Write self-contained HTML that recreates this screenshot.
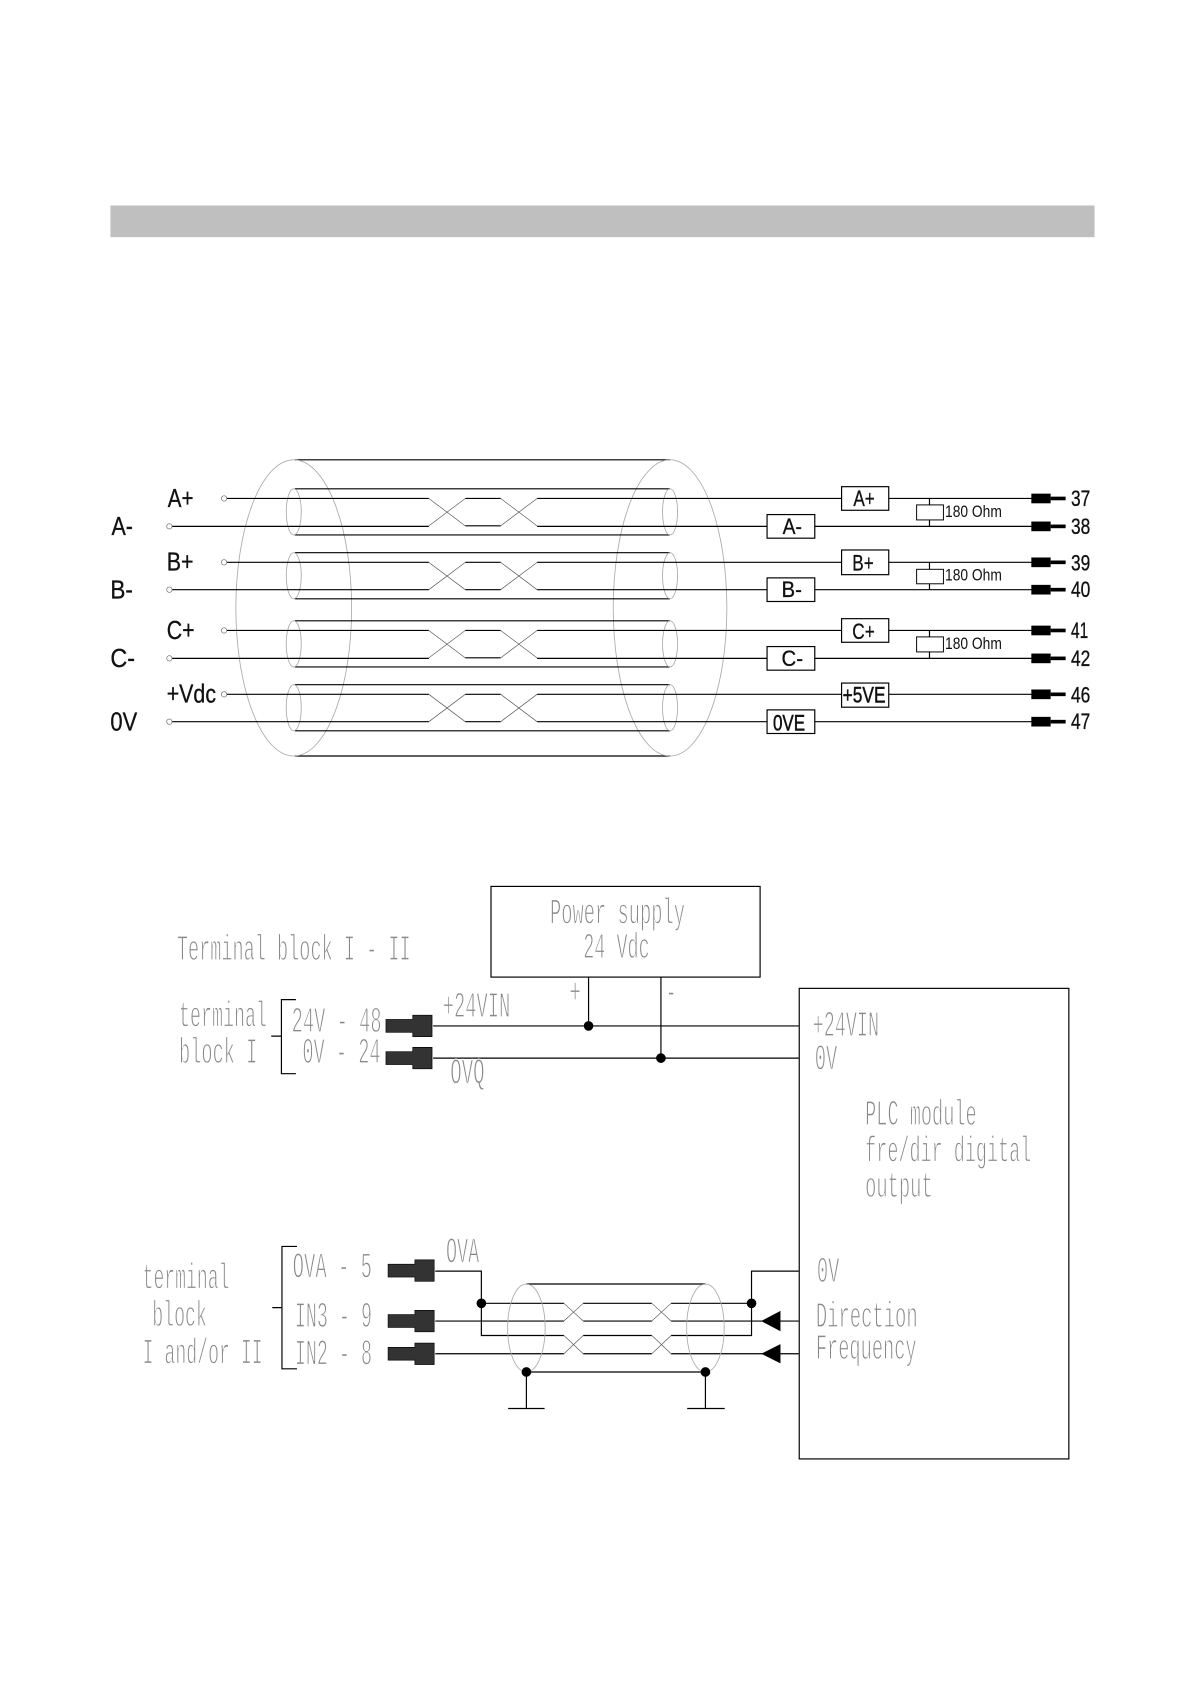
<!DOCTYPE html>
<html><head><meta charset="utf-8"><style>
html,body{margin:0;padding:0;background:#fff}
svg{display:block}
.s{font-family:"Liberation Sans",sans-serif;fill:#111;stroke:#111;stroke-width:.3px}
.m{font-family:"Liberation Mono",monospace;font-size:34px;fill:#888;stroke:#fff;stroke-width:1.1px}
.w{stroke:#000;stroke-width:1.1;fill:none}
.g{stroke:#aaa;stroke-width:.8;fill:none}
.t{stroke:#555;stroke-width:.6;fill:none}
</style></head><body>
<svg xmlns="http://www.w3.org/2000/svg" width="1190" height="1684" viewBox="0 0 1110 1570.8">
<defs>
<g id="pair">
<path class="w" d="M274 -9H624M274 34H624"/>
<ellipse class="g" cx="273" cy="12.5" rx="7" ry="21.5"/>
<ellipse class="g" cx="624" cy="12.5" rx="7" ry="21.5"/>
<path class="t" d="M399 0L433 25.5M433 0L399 25.5M466 0L500 25.5M466 25.5L500 0"/>
<path class="w" d="M433 0H466M433 25.5H466"/>
</g>
<g id="term"><rect x="961" y="-4.500" width="18" height="9" fill="#000"/><rect x="979" y="-1.700" width="14" height="3.400" fill="#000"/></g>
<g id="conn"><path d="M0 -6H25V-10H43V10H25V6H0Z" fill="#333" stroke="#000" stroke-width=".6"/></g>
</defs>
<g transform="translate(1,.5) scale(1,1.001)">
<rect x="102" y="191" width="918" height="29.5" fill="#bfbfbf"/>

<!-- top cable -->
<path class="w" d="M274 428H624M274 704H624"/>
<ellipse class="g" cx="273" cy="566" rx="54" ry="138"/>
<ellipse class="g" cx="624" cy="566" rx="53" ry="138"/>
<use href="#pair" y="464"/><use href="#pair" y="523.5"/><use href="#pair" y="587"/><use href="#pair" y="646.5"/>
<path class="w" d="M208 464H399M500 464H784M828 464H962M157 490H399M500 490H714M759 490H962"/>
<path class="w" d="M208 523.5H399M500 523.5H784M828 523.5H962M157 549H399M500 549H714M759 549H962"/>
<path class="w" d="M208 587H399M500 587H784M828 587H962M157 613H399M500 613H714M759 613H962"/>
<path class="w" d="M208 646.5H399M500 646.5H784M828 646.5H962M157 672H399M500 672H714M759 672H962"/>
<g fill="#fff" stroke="#777" stroke-width=".7">
<circle cx="208" cy="464" r="2.5"/><circle cx="157" cy="490" r="2.5"/><circle cx="208" cy="523.5" r="2.5"/><circle cx="157" cy="549" r="2.5"/>
<circle cx="208" cy="587" r="2.5"/><circle cx="157" cy="613" r="2.5"/><circle cx="208" cy="646.5" r="2.5"/><circle cx="157" cy="672" r="2.5"/>
</g>
<g class="s" font-size="24">
<text x="155.500" y="472" textLength="24" lengthAdjust="spacingAndGlyphs">A+</text>
<text x="103" y="498" textLength="20" lengthAdjust="spacingAndGlyphs">A-</text>
<text x="154.500" y="531" textLength="25" lengthAdjust="spacingAndGlyphs">B+</text>
<text x="102" y="557" textLength="21" lengthAdjust="spacingAndGlyphs">B-</text>
<text x="154.500" y="595" textLength="26" lengthAdjust="spacingAndGlyphs">C+</text>
<text x="102" y="621" textLength="23" lengthAdjust="spacingAndGlyphs">C-</text>
<text x="154.500" y="654" textLength="46" lengthAdjust="spacingAndGlyphs">+Vdc</text>
<text x="102" y="680" textLength="25" lengthAdjust="spacingAndGlyphs">0V</text>
</g>
<g fill="#fff" stroke="#000" stroke-width="1.1">
<rect x="784" y="453" width="44" height="22"/><rect x="714.5" y="479" width="44.5" height="22"/>
<rect x="784" y="512" width="44" height="23"/><rect x="714.5" y="538" width="44.5" height="22"/>
<rect x="784" y="576" width="44" height="22"/><rect x="714.5" y="602" width="44.5" height="22"/>
<rect x="784" y="636" width="44" height="22.5"/><rect x="714.5" y="661" width="44.5" height="22"/>
</g>
<g class="s" font-size="21">
<text x="795" y="471" textLength="20" lengthAdjust="spacingAndGlyphs">A+</text>
<text x="729" y="497" textLength="18" lengthAdjust="spacingAndGlyphs">A-</text>
<text x="794" y="531" textLength="20" lengthAdjust="spacingAndGlyphs">B+</text>
<text x="728" y="556" textLength="19" lengthAdjust="spacingAndGlyphs">B-</text>
<text x="794" y="595" textLength="21" lengthAdjust="spacingAndGlyphs">C+</text>
<text x="728" y="620" textLength="20" lengthAdjust="spacingAndGlyphs">C-</text>
<text x="785" y="654" textLength="40" lengthAdjust="spacingAndGlyphs" stroke-width=".5">+5VE</text>
<text x="720" y="680" textLength="30" lengthAdjust="spacingAndGlyphs" stroke-width=".5">0VE</text>
</g>
<path class="w" d="M866 464V490M866 523.5V549M866 587V613"/>
<g fill="#fff" stroke="#000" stroke-width=".9">
<rect x="854" y="470" width="25" height="14"/><rect x="854" y="530" width="25" height="13.5"/><rect x="854" y="593" width="25" height="14"/>
</g>
<g class="s" font-size="15.500">
<text x="880.500" y="481.500" textLength="53" lengthAdjust="spacingAndGlyphs" stroke-width="0">180 Ohm</text>
<text x="880.500" y="540.500" textLength="53" lengthAdjust="spacingAndGlyphs" stroke-width="0">180 Ohm</text>
<text x="880.500" y="604.500" textLength="53" lengthAdjust="spacingAndGlyphs" stroke-width="0">180 Ohm</text>
</g>
<use href="#term" y="464"/><use href="#term" y="490"/><use href="#term" y="523.5"/><use href="#term" y="549"/>
<use href="#term" y="587"/><use href="#term" y="613"/><use href="#term" y="646.5"/><use href="#term" y="672"/>
<g class="s" font-size="20.500">
<text x="998" y="471" textLength="18" lengthAdjust="spacingAndGlyphs">37</text>
<text x="998" y="497" textLength="18" lengthAdjust="spacingAndGlyphs">38</text>
<text x="998" y="531" textLength="18" lengthAdjust="spacingAndGlyphs">39</text>
<text x="998" y="556" textLength="18" lengthAdjust="spacingAndGlyphs">40</text>
<text x="998" y="594" textLength="16" lengthAdjust="spacingAndGlyphs">41</text>
<text x="998" y="620" textLength="18" lengthAdjust="spacingAndGlyphs">42</text>
<text x="998" y="654" textLength="18" lengthAdjust="spacingAndGlyphs">46</text>
<text x="998" y="679" textLength="18" lengthAdjust="spacingAndGlyphs">47</text>
</g>

<!-- power section -->
<rect x="457" y="825.5" width="251" height="84.5" fill="none" stroke="#000" stroke-width="1.1"/>
<rect x="744.5" y="920.5" width="251.5" height="438.5" fill="none" stroke="#000" stroke-width="1.1"/>
<path class="w" d="M403 955.5H744M403 985.5H744M548 910V955.5M615.5 910V985.5"/>
<circle cx="548" cy="955.5" r="4.5"/><circle cx="615.5" cy="985.5" r="4.5"/>
<path class="w" d="M275 931H261.500V1000H275M252 965H261.500M276 1161H262V1275H276M253 1218H262"/>
<use href="#conn" transform="translate(359,955.500)"/><use href="#conn" transform="translate(359,985.500)"/>
<use href="#conn" transform="translate(361,1183.500)"/><use href="#conn" transform="translate(361,1230.500)"/><use href="#conn" transform="translate(361,1261)"/>

<!-- lower cable -->
<path class="w" d="M405 1184H448V1244H525M405 1230.500H525M405 1261H525M448 1214H525M543 1214H607M543 1230.500H607M543 1244H607M543 1261H607M625 1214H700M625 1230.500H744M625 1244H700V1184H744M625 1261H744"/>
<path class="t" d="M525 1214L543 1230.500M525 1230.500L543 1214M607 1214L625 1230.500M607 1230.500L625 1214M525 1244L543 1261M525 1261L543 1244M607 1244L625 1261M607 1261L625 1244"/>
<path class="w" d="M490 1196H657M490 1278H657M490 1278V1312M657 1278V1312M473 1312H507M640 1312H675"/>
<ellipse class="g" cx="490" cy="1237" rx="17.500" ry="41"/>
<ellipse class="g" cx="657" cy="1237" rx="17.500" ry="41"/>
<circle cx="448" cy="1214" r="4.500"/><circle cx="700" cy="1214" r="4.500"/><circle cx="490" cy="1278" r="4.500"/><circle cx="657" cy="1278" r="4.500"/>
<path d="M709 1230.500L727 1221V1240ZM709 1261L727 1252V1270Z"/>

<!-- CAD-style text -->
<g class="m">
<text x="512" y="860" textLength="126" lengthAdjust="spacingAndGlyphs">Power supply</text>
<text x="543" y="892" textLength="62" lengthAdjust="spacingAndGlyphs">24 Vdc</text>
<text x="164" y="894" textLength="218" lengthAdjust="spacingAndGlyphs">Terminal block I - II</text>
<text x="166" y="956" textLength="82" lengthAdjust="spacingAndGlyphs">terminal</text>
<text x="166" y="990" textLength="73" lengthAdjust="spacingAndGlyphs">block I</text>
<text x="271" y="961" textLength="84" lengthAdjust="spacingAndGlyphs">24V - 48</text>
<text x="281" y="990" textLength="73" lengthAdjust="spacingAndGlyphs">0V - 24</text>
<text x="412" y="947" textLength="63" lengthAdjust="spacingAndGlyphs">+24VIN</text>
<text x="419" y="1009" textLength="32" lengthAdjust="spacingAndGlyphs">OVQ</text>
<text x="530" y="934" textLength="11" lengthAdjust="spacingAndGlyphs">+</text>
<text x="620" y="934" textLength="10" lengthAdjust="spacingAndGlyphs">-</text>
<text x="757" y="965" textLength="62" lengthAdjust="spacingAndGlyphs">+24VIN</text>
<text x="759" y="996" textLength="21" lengthAdjust="spacingAndGlyphs">0V</text>
<text x="806" y="1048" textLength="104" lengthAdjust="spacingAndGlyphs">PLC module</text>
<text x="806" y="1082" textLength="155" lengthAdjust="spacingAndGlyphs">fre/dir digital</text>
<text x="806" y="1115" textLength="63" lengthAdjust="spacingAndGlyphs">output</text>
<text x="761" y="1194" textLength="21" lengthAdjust="spacingAndGlyphs">0V</text>
<text x="760" y="1236" textLength="95" lengthAdjust="spacingAndGlyphs">Direction</text>
<text x="760" y="1266" textLength="94" lengthAdjust="spacingAndGlyphs">Frequency</text>
<text x="132" y="1200" textLength="81" lengthAdjust="spacingAndGlyphs">terminal</text>
<text x="141" y="1235" textLength="51" lengthAdjust="spacingAndGlyphs">block</text>
<text x="132" y="1270" textLength="112" lengthAdjust="spacingAndGlyphs">I and/or II</text>
<text x="272" y="1190" textLength="74" lengthAdjust="spacingAndGlyphs">OVA - 5</text>
<text x="274" y="1236" textLength="72" lengthAdjust="spacingAndGlyphs">IN3 - 9</text>
<text x="274" y="1271" textLength="72" lengthAdjust="spacingAndGlyphs">IN2 - 8</text>
<text x="415" y="1176" textLength="31" lengthAdjust="spacingAndGlyphs">OVA</text>
</g>
</g>
</svg>
</body></html>
